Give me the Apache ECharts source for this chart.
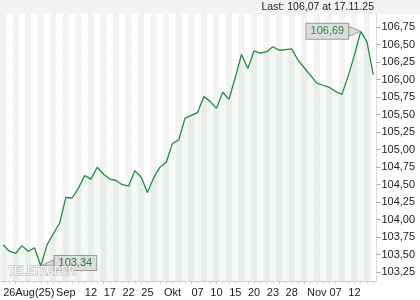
<!DOCTYPE html>
<html>
<head>
<meta charset="utf-8">
<script src="https://cdn.jsdelivr.net/npm/echarts@6/dist/echarts.min.js"></script>
<style>html,body{margin:0;padding:0;background:#fff;}#c{width:420px;height:300px;}</style>
</head>
<body>
<div id="c"></div>
<script>
const dates = ['25.08.25','26.08.25','27.08.25','28.08.25','29.08.25',
  '01.09.25','02.09.25','03.09.25','04.09.25','05.09.25','08.09.25','09.09.25','10.09.25','11.09.25','12.09.25',
  '15.09.25','16.09.25','17.09.25','18.09.25','19.09.25','22.09.25','23.09.25','24.09.25','25.09.25','26.09.25',
  '29.09.25','30.09.25','01.10.25','02.10.25','03.10.25','06.10.25','07.10.25','08.10.25','09.10.25','10.10.25',
  '13.10.25','14.10.25','15.10.25','16.10.25','17.10.25','20.10.25','21.10.25','22.10.25','23.10.25','24.10.25',
  '27.10.25','28.10.25','29.10.25','30.10.25','03.11.25','04.11.25','05.11.25','06.11.25','07.11.25','10.11.25',
  '11.11.25','12.11.25','13.11.25','14.11.25','17.11.25'];
const prices = [103.64,103.55,103.52,103.63,103.55,103.60,103.34,103.64,103.80,103.95,
  104.32,104.31,104.45,104.63,104.58,104.75,104.65,104.58,104.56,104.50,
  104.48,104.70,104.61,104.39,104.60,104.75,104.82,105.09,105.14,105.45,
  105.49,105.53,105.76,105.69,105.59,105.82,105.72,106.03,106.36,106.16,
  106.41,106.38,106.40,106.47,106.42,106.43,106.44,106.28,106.17,106.06,
  105.95,105.92,105.89,105.83,105.79,106.05,106.35,106.69,106.54,106.07];
const xLabelIndex = [0,10,14,17,20,23,27,31,34,37,40,43,46,50,53,56];
const xLabelText = ['26Aug(25)','Sep','12','17','22','25','Okt','07','10','15','20','23','28','Nov','07','12'];
const yMinTick = 103.25, yMaxTick = 106.75, yStep = 0.25;

const fmt = v => v.toFixed(2).replace('.', ',');
const FONT = '"Liberation Sans", Arial, sans-serif';
const green = '#1f8f3f';
const lastIdx = prices.length - 1;

const chart = echarts.init(document.getElementById('c'), null, {renderer: 'canvas'});
chart.setOption({
  animation: false,
  backgroundColor: '#fff',
  graphic: [
    {type: 'rect', x: 0, y: 0, z: -10, shape: {width: 420, height: 14}, style: {fill: '#f3f3f3'}},
    {type: 'text', x: 374, y: 7.5, z: 50,
     style: {text: 'Last: ' + fmt(prices[lastIdx]) + ' at ' + dates[lastIdx], align: 'right', verticalAlign: 'middle',
             fill: '#222', font: '10.5px "Liberation Sans", Arial, sans-serif'}},
    {type: 'text', x: 8, y: 272, z: 100, scaleX: 0.8,
     style: {text: 'TELETRADER', fill: 'rgba(255,255,255,0.7)', stroke: '#b4b4b4', lineWidth: 1,
             verticalAlign: 'middle', font: 'bold 12.5px "Liberation Sans", Arial, sans-serif'}}
  ],
  grid: [
    {left: 0, right: 43.6, top: 14, bottom: 19},
    {left: 0, right: 43.6, top: 27.13, bottom: 27.75}
  ],
  xAxis: [
    {
      type: 'category', gridIndex: 0, data: dates, boundaryGap: true,
      axisLine: {show: true, lineStyle: {color: '#d0d0d0', width: 1}},
      axisTick: {show: true, alignWithLabel: true, interval: 0, length: 3, lineStyle: {color: '#cfcfcf'}},
      axisLabel: {
        show: true, margin: 6, color: '#222', fontSize: 11, fontFamily: FONT,
        alignMinLabel: 'left',
        interval: (i) => xLabelIndex.indexOf(i) >= 0,
        formatter: (v, i) => { const k = xLabelIndex.indexOf(i); return k >= 0 ? xLabelText[k] : ''; }
      },
      splitLine: {show: false},
      splitArea: {show: true, interval: 0, areaStyle: {color: ['#f3f3f3', '#ffffff']}}
    },
    {type: 'category', gridIndex: 1, data: dates, boundaryGap: true, show: false}
  ],
  yAxis: [
    {
      type: 'value', gridIndex: 0, position: 'right',
      min: yMinTick - yStep / 2, max: yMaxTick + yStep * 0.75,
      axisLine: {show: true, lineStyle: {color: '#dcdcdc'}},
      axisTick: {show: false}, axisLabel: {show: false}, splitLine: {show: false}
    },
    {
      type: 'value', gridIndex: 1, position: 'right',
      min: yMinTick, max: yMaxTick, interval: yStep,
      axisLine: {show: false},
      axisTick: {show: true, length: 4, lineStyle: {color: '#a8a8a8'}},
      axisLabel: {show: true, margin: 5, color: '#222', fontSize: 11, fontFamily: FONT, formatter: fmt},
      splitLine: {show: true, lineStyle: {color: '#e2e2e2', width: 1}}
    }
  ],
  series: [{
    type: 'line', xAxisIndex: 0, yAxisIndex: 0, data: prices,
    symbol: 'none', smooth: false,
    lineStyle: {color: green, width: 1.3},
    areaStyle: {color: 'rgba(70,140,70,0.08)', origin: 'start'},
    markPoint: {
      silent: true,
      data: [
        {type: 'max', symbol: 'path://M0,0 L12,5 L0,10 Z', symbolSize: [12, 10], symbolOffset: [-6, 0],
         itemStyle: {color: '#dcdcdc', borderColor: '#9a9a9a', borderWidth: 1},
         label: {show: true, position: 'left', distance: 0, formatter: p => fmt(p.value),
                 color: green, fontSize: 11, fontFamily: FONT, backgroundColor: '#dcdcdc',
                 borderColor: '#9a9a9a', borderWidth: 1, padding: [2, 4, 1, 4], lineHeight: 12}},
        {type: 'min', symbol: 'path://M0,6 L13,0 L13,5 Z', symbolSize: [13, 6], symbolOffset: [6.5, -3],
         itemStyle: {color: '#dcdcdc', borderColor: '#9a9a9a', borderWidth: 1},
         label: {show: true, position: 'right', distance: 0, offset: [0, 0], formatter: p => fmt(p.value),
                 color: '#1f7a35', fontSize: 11, fontFamily: FONT, backgroundColor: '#dcdcdc',
                 borderColor: '#9a9a9a', borderWidth: 1, padding: [1, 4, 1, 4], lineHeight: 12}}
      ]
    }
  }]
});
</script>
</body>
</html>
